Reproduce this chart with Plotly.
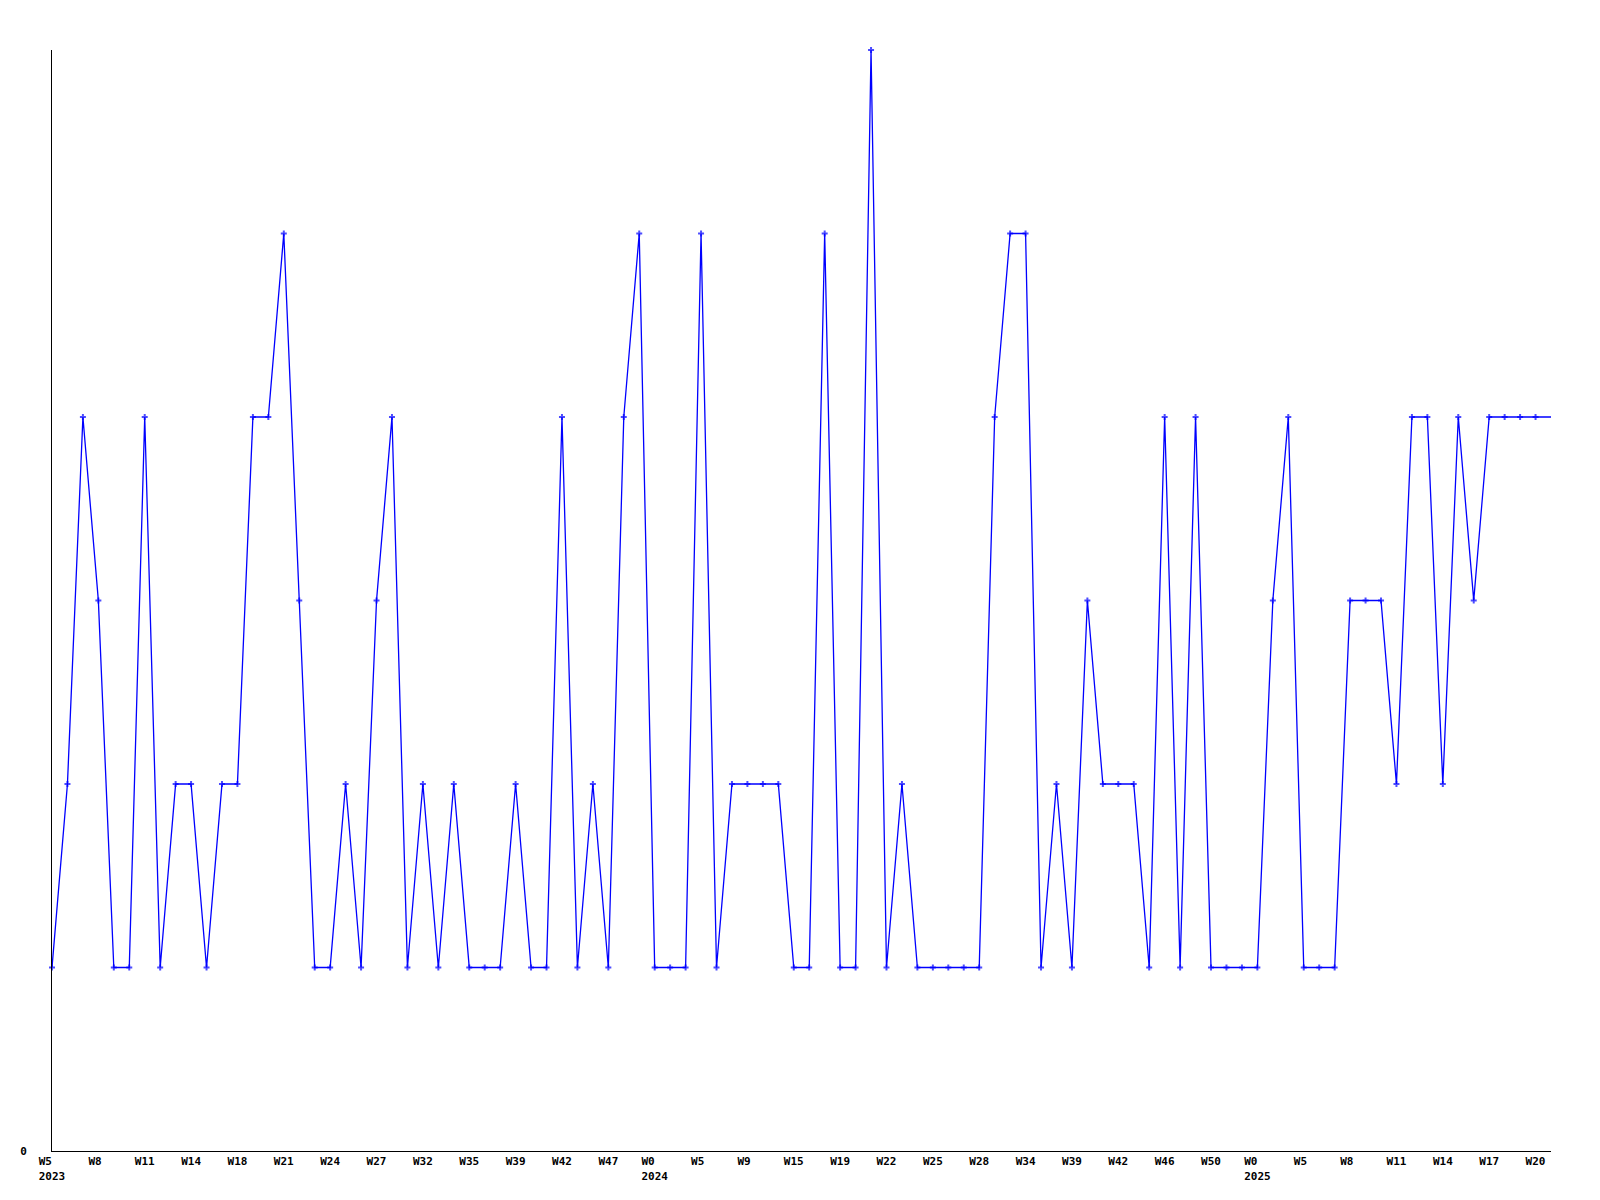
import plotly.graph_objects as go

# Values per week (98 points, last one runs to the right edge without a marker)
values = [1, 2, 4, 3, 1, 1, 4, 1, 2, 2,
          1, 2, 2, 4, 4, 5, 3, 1, 1, 2,
          1, 3, 4, 1, 2, 1, 2, 1, 1, 1,
          2, 1, 1, 4, 1, 2, 1, 4, 5, 1,
          1, 1, 5, 1, 2, 2, 2, 2, 1, 1,
          5, 1, 1, 6, 1, 2, 1, 1, 1, 1,
          1, 4, 5, 5, 1, 2, 1, 3, 2, 2,
          2, 1, 4, 1, 4, 1, 1, 1, 1, 3,
          4, 1, 1, 1, 3, 3, 3, 2, 4, 4,
          2, 4, 3, 4, 4, 4, 4, 4]

tick_labels = ["W5", "W8", "W11", "W14", "W18", "W21", "W24", "W27", "W32", "W35",
               "W39", "W42", "W47", "W0", "W5", "W9", "W15", "W19", "W22", "W25",
               "W28", "W34", "W39", "W42", "W46", "W50", "W0", "W5", "W8", "W11",
               "W14", "W17", "W20"]
year_labels = {0: "2023", 13: "2024", 26: "2025"}
label_step = 3

NB = "\u00a0"
x = list(range(len(values)))
tickvals = [i * label_step for i in range(len(tick_labels))]
ticktext = []
for k, lab in enumerate(tick_labels):
    if k in year_labels:
        ticktext.append(lab.ljust(4, NB) + "<br>" + year_labels[k])
    else:
        ticktext.append(lab.ljust(3, NB))

marker_sizes = [5] * (len(values) - 1) + [0]

fig = go.Figure()
fig.add_trace(go.Scatter(
    x=x, y=values, mode="lines+markers",
    line=dict(color="#0000ff", width=1.3),
    marker=dict(symbol="cross", size=marker_sizes, color="#0000ff",
                line=dict(width=0)),
    cliponaxis=False, showlegend=False,
))

font = dict(family="DejaVu Sans Mono", size=11, color="#000000", weight="bold")

fig.update_layout(
    width=1600, height=1200,
    margin=dict(l=42, r=57, t=42, b=57, pad=0),
    paper_bgcolor="white", plot_bgcolor="white",
    font=font,
    xaxis=dict(range=[0, len(values) - 1], showgrid=False, zeroline=False,
               showline=True, linecolor="#000000", linewidth=1,
               tickvals=tickvals, ticktext=ticktext, ticks="",
               tickfont=font),
    yaxis=dict(range=[0, 6], showgrid=False, zeroline=False,
               showline=True, linecolor="#000000", linewidth=1,
               tickvals=[0], ticktext=["0"], ticks="",
               tickfont=font, ticklabelstandoff=22),
)

fig.write_html("out.html")
